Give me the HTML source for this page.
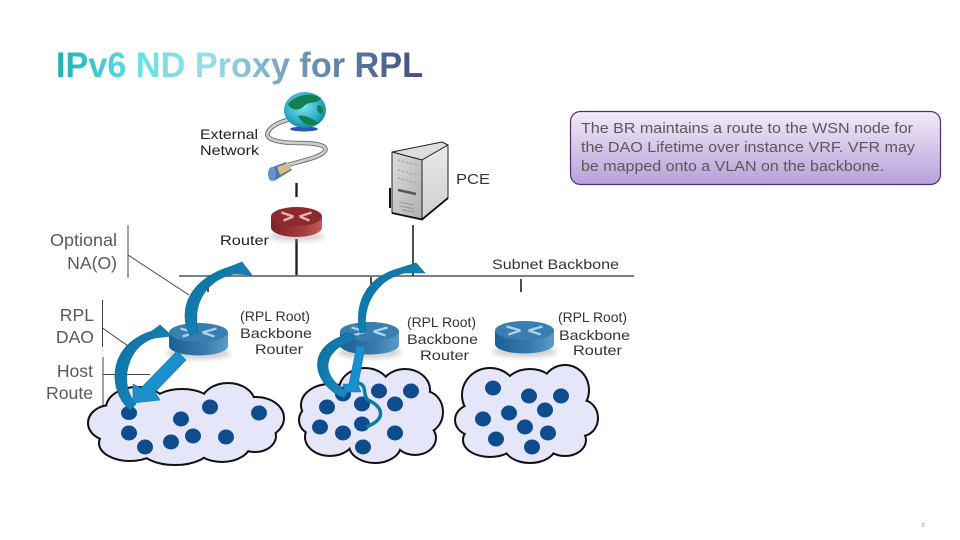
<!DOCTYPE html>
<html><head><meta charset="utf-8"><style>
html,body{margin:0;padding:0;background:#fff}
svg{display:block}
text{font-family:"Liberation Sans",sans-serif}
</style></head><body>
<svg width="960" height="540" viewBox="0 0 960 540" xmlns="http://www.w3.org/2000/svg">
<defs>
<linearGradient id="tg" gradientUnits="userSpaceOnUse" x1="56" y1="0" x2="423" y2="0">
<stop offset="0" stop-color="#1bb0b4"/><stop offset=".22" stop-color="#66e0e6"/><stop offset=".42" stop-color="#98dfe6"/><stop offset=".7" stop-color="#6a90ae"/><stop offset="1" stop-color="#424e84"/></linearGradient>
<linearGradient id="cg" x1="0" y1="0" x2="0" y2="1"><stop offset="0" stop-color="#f2ecf9"/><stop offset="1" stop-color="#b8a0d9"/></linearGradient>
<linearGradient id="rb" x1="0" y1="0" x2="1" y2="0"><stop offset="0" stop-color="#1f5f93"/><stop offset=".55" stop-color="#3478ac"/><stop offset="1" stop-color="#5a9cc8"/></linearGradient>
<linearGradient id="rr" x1="0" y1="0" x2="1" y2="0"><stop offset="0" stop-color="#7c2326"/><stop offset=".6" stop-color="#a33a3d"/><stop offset="1" stop-color="#c25a5c"/></linearGradient>
<radialGradient id="gl" cx=".45" cy=".4" r=".65"><stop offset="0" stop-color="#7fe6ee"/><stop offset=".7" stop-color="#2aa8c4"/><stop offset="1" stop-color="#0f7a96"/></radialGradient>
<linearGradient id="ar" x1="0" y1="0" x2="1" y2="1"><stop offset="0" stop-color="#0b6e9e"/><stop offset="1" stop-color="#1a8fc6"/></linearGradient>
<linearGradient id="tf" x1="0" y1="0" x2="1" y2="1"><stop offset="0" stop-color="#dcdcdc"/><stop offset="1" stop-color="#b0b0b0"/></linearGradient>
<linearGradient id="ts" x1="0" y1="0" x2="0" y2="1"><stop offset="0" stop-color="#e9e9e9"/><stop offset="1" stop-color="#cfcfcf"/></linearGradient>
<filter id="sh" x="-30%" y="-30%" width="160%" height="180%"><feGaussianBlur stdDeviation="2.5"/></filter>
<g id="router-b">
<ellipse cx="0" cy="21" rx="32" ry="6" fill="#999" opacity=".45" filter="url(#sh)"/>
<path d="M-29.500,0V13.500A29.500,9.500 0 0 0 29.500,13.500V0Z" fill="url(#rb)"/>
<ellipse cx="0" cy="0" rx="29.500" ry="9.500" fill="#3a7eb0"/>
<path d="M-18,-4L-4,0M-16,4L-4,0M18,-4L4,0M16,4L4,0" stroke="#a9d3ec" stroke-width="2.400" fill="none"/>
</g>
</defs>

<!-- Title -->
<text x="56" y="77" font-size="35" font-weight="700" fill="url(#tg)" textLength="367" lengthAdjust="spacingAndGlyphs">IPv6 ND Proxy for RPL</text>

<!-- Callout -->
<rect x="570.500" y="111.500" width="370" height="73" rx="10" fill="url(#cg)" stroke="#4d2f70" stroke-width="1.200"/>
<g font-size="15" fill="#595959">
<text x="581" y="133" textLength="332" lengthAdjust="spacingAndGlyphs">The BR maintains a route to the WSN node for</text>
<text x="581" y="152" textLength="334" lengthAdjust="spacingAndGlyphs">the DAO Lifetime over instance VRF. VFR may</text>
<text x="581" y="171" textLength="303" lengthAdjust="spacingAndGlyphs">be mapped onto a VLAN on the backbone.</text>
</g>

<!-- Left labels -->
<g font-size="17.600" fill="#595959" text-anchor="end">
<text x="117" y="246" textLength="67" lengthAdjust="spacingAndGlyphs">Optional</text><text x="117" y="269">NA(O)</text>
<text x="94" y="321">RPL</text><text x="94" y="343">DAO</text>
<text x="93" y="377">Host</text><text x="93" y="399">Route</text>
</g>
<g stroke="#444" stroke-width="1" fill="none">
<path d="M128,225V278M128,255L189,295"/>
<path d="M102.500,300V347M102.500,328L128,346"/>
<path d="M103,357V410M103,374.500H150"/>
</g>

<!-- Clouds -->
<g stroke="#111" stroke-width="4" fill="#e6e6fa">
<ellipse cx="111" cy="423" rx="22" ry="17"/><ellipse cx="137" cy="408" rx="30" ry="20"/><ellipse cx="182" cy="405" rx="30" ry="15"/><ellipse cx="228" cy="403" rx="26" ry="19"/><ellipse cx="256" cy="418" rx="27" ry="20"/><ellipse cx="255" cy="436" rx="20" ry="15"/><ellipse cx="222" cy="443" rx="28" ry="18"/><ellipse cx="175" cy="447" rx="35" ry="17"/><ellipse cx="130" cy="443" rx="30" ry="17"/>
<ellipse cx="330" cy="405" rx="28" ry="20"/><ellipse cx="315" cy="420" rx="15" ry="14"/><ellipse cx="365" cy="390" rx="25" ry="21"/><ellipse cx="405" cy="390" rx="24" ry="20"/><ellipse cx="425" cy="412" rx="17" ry="20"/><ellipse cx="415" cy="438" rx="20" ry="16"/><ellipse cx="375" cy="445" rx="25" ry="17"/><ellipse cx="330" cy="437" rx="24" ry="18"/>
<ellipse cx="490" cy="395" rx="27" ry="26"/><ellipse cx="474" cy="420" rx="18" ry="15"/><ellipse cx="530" cy="388" rx="25" ry="18"/><ellipse cx="565" cy="390" rx="23" ry="24"/><ellipse cx="582" cy="418" rx="15" ry="17"/><ellipse cx="565" cy="440" rx="20" ry="15"/><ellipse cx="530" cy="446" rx="25" ry="16"/><ellipse cx="490" cy="440" rx="26" ry="16"/>
</g>
<g fill="#e6e6fa">
<ellipse cx="111" cy="423" rx="22" ry="17"/><ellipse cx="137" cy="408" rx="30" ry="20"/><ellipse cx="182" cy="405" rx="30" ry="15"/><ellipse cx="228" cy="403" rx="26" ry="19"/><ellipse cx="256" cy="418" rx="27" ry="20"/><ellipse cx="255" cy="436" rx="20" ry="15"/><ellipse cx="222" cy="443" rx="28" ry="18"/><ellipse cx="175" cy="447" rx="35" ry="17"/><ellipse cx="130" cy="443" rx="30" ry="17"/><rect x="120" y="405" width="130" height="40"/>
<ellipse cx="330" cy="405" rx="28" ry="20"/><ellipse cx="315" cy="420" rx="15" ry="14"/><ellipse cx="365" cy="390" rx="25" ry="21"/><ellipse cx="405" cy="390" rx="24" ry="20"/><ellipse cx="425" cy="412" rx="17" ry="20"/><ellipse cx="415" cy="438" rx="20" ry="16"/><ellipse cx="375" cy="445" rx="25" ry="17"/><ellipse cx="330" cy="437" rx="24" ry="18"/><rect x="325" y="395" width="90" height="45"/>
<ellipse cx="490" cy="395" rx="27" ry="26"/><ellipse cx="474" cy="420" rx="18" ry="15"/><ellipse cx="530" cy="388" rx="25" ry="18"/><ellipse cx="565" cy="390" rx="23" ry="24"/><ellipse cx="582" cy="418" rx="15" ry="17"/><ellipse cx="565" cy="440" rx="20" ry="15"/><ellipse cx="530" cy="446" rx="25" ry="16"/><ellipse cx="490" cy="440" rx="26" ry="16"/><rect x="485" y="390" width="85" height="50"/>
</g>
<!-- Nodes -->
<g fill="#0f4c8e">
<ellipse cx="129" cy="413" rx="8" ry="7"/><ellipse cx="129" cy="433" rx="8" ry="7.500"/><ellipse cx="145" cy="447" rx="8" ry="7.500"/><ellipse cx="171" cy="442" rx="8" ry="7.500"/><ellipse cx="181" cy="419" rx="8" ry="7.500"/><ellipse cx="210" cy="407" rx="8" ry="7.500"/><ellipse cx="193" cy="436" rx="8" ry="7.500"/><ellipse cx="226" cy="437" rx="8" ry="7.500"/><ellipse cx="259" cy="413" rx="8" ry="7.500"/>
<ellipse cx="343" cy="394" rx="8" ry="7.500"/><ellipse cx="379" cy="391" rx="8" ry="7.500"/><ellipse cx="411" cy="391" rx="8" ry="7.500"/><ellipse cx="327" cy="407" rx="8" ry="7.500"/><ellipse cx="362" cy="404" rx="8" ry="7.500"/><ellipse cx="395" cy="404" rx="8" ry="7.500"/><ellipse cx="320" cy="427" rx="8" ry="7.500"/><ellipse cx="343" cy="433" rx="8" ry="7.500"/><ellipse cx="362" cy="424" rx="8" ry="7.500"/><ellipse cx="395" cy="433" rx="8" ry="7.500"/><ellipse cx="363" cy="447" rx="8" ry="7.500"/>
<ellipse cx="493" cy="388" rx="8" ry="7.500"/><ellipse cx="529" cy="396" rx="8" ry="7.500"/><ellipse cx="561" cy="396" rx="8" ry="7.500"/><ellipse cx="509" cy="413" rx="8" ry="7.500"/><ellipse cx="545" cy="410" rx="8" ry="7.500"/><ellipse cx="483" cy="419" rx="8" ry="7.500"/><ellipse cx="525" cy="427" rx="8" ry="7.500"/><ellipse cx="548" cy="433" rx="8" ry="7.500"/><ellipse cx="496" cy="439" rx="8" ry="7.500"/><ellipse cx="532" cy="447" rx="8" ry="7.500"/>
</g>

<!-- Backbone -->
<g stroke="#3c3c3c" fill="none">
<path d="M179,276H634" stroke-width="1.600" stroke="#555"/>
<path d="M296.500,183V197M296.500,239V275" stroke-width="2.400" stroke="#222"/>
<path d="M208,277V292M371,277V284M521,279V292" stroke-width="1.600" stroke="#222"/>
<path d="M413,225V276" stroke-width="1.600" stroke="#222"/>
</g>

<!-- Globe + cable -->
<path d="M297,118C285,120 272,124 268,132C264,140 280,143 300,143C318,143 328,146 325,151C321,157 305,160 288,165" fill="none" stroke="#666" stroke-width="4.500"/>
<path d="M297,118C285,120 272,124 268,132C264,140 280,143 300,143C318,143 328,146 325,151C321,157 305,160 288,165" fill="none" stroke="#c9ccd2" stroke-width="2.800"/>
<ellipse cx="304" cy="129" rx="14" ry="2.500" fill="#2d56b0"/>
<ellipse cx="305" cy="110" rx="21" ry="18" fill="url(#gl)"/>
<path d="M288,104C296,94 312,92 321,98C319,104 308,101 304,106C300,111 291,111 288,104ZM298,116C306,114 314,120 318,123C310,128 302,124 298,116ZM318,105C322,105 325,109 322,114C318,114 316,109 318,105Z" fill="#128050"/>
<path d="M270,168L286,162L292,170L274,181Z" fill="#4a78b4"/>
<path d="M277,167L288,163L291,169L280,175Z" fill="#d0bf80"/>
<ellipse cx="272" cy="174" rx="4" ry="7" fill="#6a90c4"/>
<text x="200" y="139" font-size="14" fill="#222" textLength="58" lengthAdjust="spacingAndGlyphs">External</text>
<text x="200" y="155" font-size="14" fill="#222" textLength="59" lengthAdjust="spacingAndGlyphs">Network</text>

<!-- Red router -->
<g transform="translate(296.500,216.500)">
<ellipse cx="0" cy="20" rx="28" ry="5" fill="#999" opacity=".4" filter="url(#sh)"/>
<path d="M-25.500,0V11A25.500,9.500 0 0 0 25.500,11V0Z" fill="url(#rr)"/>
<ellipse cx="0" cy="0" rx="25.500" ry="9.500" fill="#8e2a2e"/>
<path d="M-15,-4L-3,0M-13,4L-3,0M15,-4L3,0M13,4L3,0" stroke="#e2b5b5" stroke-width="2.400" fill="none"/>
</g>
<text x="220" y="245" font-size="14" fill="#222" textLength="49" lengthAdjust="spacingAndGlyphs">Router</text>

<!-- PCE tower -->
<path d="M392,152L442,142L448,145L422,160Z" fill="#dedede" stroke="#222" stroke-width="1" stroke-linejoin="round"/>
<path d="M392,152L422,160V219L392,213Z" fill="url(#tf)" stroke="#222" stroke-width="1" stroke-linejoin="round"/>
<path d="M422,160L448,145V198L422,219Z" fill="url(#ts)" stroke="#222" stroke-width="1" stroke-linejoin="round"/>
<path d="M392,213L422,219.500L448,198" fill="none" stroke="#111" stroke-width="1.800"/>
<path d="M390,188V208" stroke="#111" stroke-width="2"/>
<path d="M398,160L418,165M398,170L418,175M398,178L418,183" stroke="#999" stroke-width="1" stroke-dasharray="2 2"/>
<path d="M398,190L416,194" stroke="#555" stroke-width="2.500"/>
<path d="M399,202L414,205M400,206L414,209M402,210L414,212" stroke="#999" stroke-width="1"/>
<text x="456" y="184" font-size="14.500" fill="#333" textLength="34" lengthAdjust="spacingAndGlyphs">PCE</text>

<!-- Blue routers -->
<use href="#router-b" x="198.500" y="332.500"/>
<use href="#router-b" x="369.500" y="331.500"/>
<use href="#router-b" x="524.500" y="330.500"/>

<g font-size="14" fill="#333">
<text x="240" y="321" textLength="70" lengthAdjust="spacingAndGlyphs">(RPL Root)</text>
<text x="240" y="338" textLength="72" lengthAdjust="spacingAndGlyphs">Backbone</text>
<text x="255" y="354" textLength="48" lengthAdjust="spacingAndGlyphs">Router</text>
<text x="407" y="327" textLength="69" lengthAdjust="spacingAndGlyphs">(RPL Root)</text>
<text x="407" y="344" textLength="71" lengthAdjust="spacingAndGlyphs">Backbone</text>
<text x="420" y="360" textLength="49" lengthAdjust="spacingAndGlyphs">Router</text>
<text x="558" y="322" textLength="69" lengthAdjust="spacingAndGlyphs">(RPL Root)</text>
<text x="559" y="340" textLength="71" lengthAdjust="spacingAndGlyphs">Backbone</text>
<text x="573" y="355" textLength="49" lengthAdjust="spacingAndGlyphs">Router</text>
<text x="492" y="269" textLength="127" lengthAdjust="spacingAndGlyphs">Subnet Backbone</text>
</g>

<!-- Blue arrows -->
<g fill="url(#ar)" stroke="#0a6a99" stroke-width=".6">
<path d="M190,336C178,312 186,280 232,266L242,262L252,275L234,274C207,280 192,302 198,332Z"/>
<path d="M130,410C108,392 106,345 152,331L160,325L172,336L155,338C127,345 118,384 136,404Z"/>
<path d="M360,333C354,305 364,278 400,268L416,263L425,273L405,273C378,279 362,303 366,332Z"/>
<path d="M344,398C312,384 307,350 340,337L347,332L356,336L351,342C324,350 318,375 348,392Z"/>
</g>
<g fill="#1a8fcb" stroke="#0f78ad" stroke-width=".6">
<path d="M177,351L186,360L155,392L160,400L133,403L133,384L141,388Z"/>
<path d="M357,345L365,347L358,385L361,392L345,392L343,384L349,384Z"/>
</g>
<path d="M358,383C368,385 362,395 368,400C385,408 385,420 366,427" fill="none" stroke="#0d7ba8" stroke-width="3.500"/>

<!-- Page number -->
<text x="923" y="527" font-size="6" fill="#aaa" text-anchor="middle">8</text>
</svg>
</body></html>
